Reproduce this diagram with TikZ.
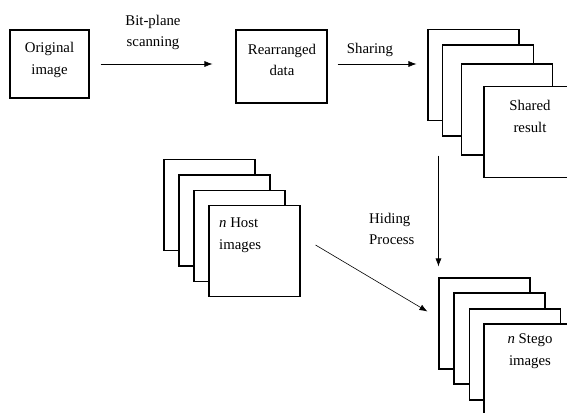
\documentclass[tikz,border=0pt]{standalone}
\usepackage{fontspec}
\setmainfont{Liberation Serif}
\usetikzlibrary{arrows.meta}

\tikzset{
    box/.style={draw, line width=1.1pt, fill=white, inner sep=0pt},
    sheet/.style={box, minimum width=91pt, minimum height=91pt},
    txt/.style={align=center, inner sep=0pt, font=\fontsize{14.8}{21.5}\selectfont},
    flow/.style={-{Latex[length=8pt,width=6pt]}, line width=0.6pt}
}

\begin{document}
\begin{tikzpicture}[x=1pt, y=-1pt]
    \clip (0,0) rectangle (567,412);

    %Place original image node
    \node[box, minimum width=79pt, minimum height=68pt] (orig) at (49.5,64) {};
    \node[txt] (orig-text) at (49.5,60) {Original\\image};

    %Place rearranged data node
    \node[box, minimum width=91pt, minimum height=73pt] (rearr) at (281.5,66.5) {};
    \node[txt] (rearr-text) at (282,60) {Rearranged\\data};

    %Place shared result stack
    \node[sheet] (s1) at (473.5,75) {};
    \node[sheet] (s2) at (488,90.5) {};
    \node[sheet] (s3) at (507,109.5) {};
    \node[sheet] (s4) at (529.5,132) {};
    \node[txt] (s4-text) at (530,116.5) {Shared\\result};

    %Place host images stack
    \node[sheet] (h1) at (209.5,205) {};
    \node[sheet] (h2) at (224.5,220.5) {};
    \node[sheet] (h3) at (239.5,236) {};
    \node[sheet] (h4) at (254.5,251) {};
    \node[txt, align=left, anchor=west] (h4-text) at (219,235) {\textit{n} Host\\images};

    %Place stego images stack
    \node[sheet] (g1) at (484.5,323.5) {};
    \node[sheet] (g2) at (499.5,338.5) {};
    \node[sheet] (g3) at (515,354.5) {};
    \node[sheet] (g4) at (529.5,369.5) {};
    \node[txt] (g4-text) at (530,351) {\textit{n} Stego\\images};

    %Place arrow labels
    \node[txt] (scan-label) at (153,32.5) {Bit-plane\\scanning};
    \node[txt, anchor=base] (share-label) at (370,53) {Sharing};
    \node[txt, align=left, anchor=west] (hide-label) at (369,229) {Hiding\\Process};

    %Draw arrows
    \draw[flow] ([xshift=11pt]orig.east) -- ([xshift=-23pt]rearr.west |- orig.east);
    \draw[flow] ([xshift=10pt]rearr.east |- orig.east) -- ([xshift=-11pt]s1.west |- orig.east);
    \draw[flow] (g1.north west |- s3.south) -- ([yshift=11pt]g1.north west);
    \draw[flow] ([shift={(15pt,6pt)}]h4.east) -- ([shift={(-11pt,12pt)}]g1.west);
\end{tikzpicture}
\end{document}
